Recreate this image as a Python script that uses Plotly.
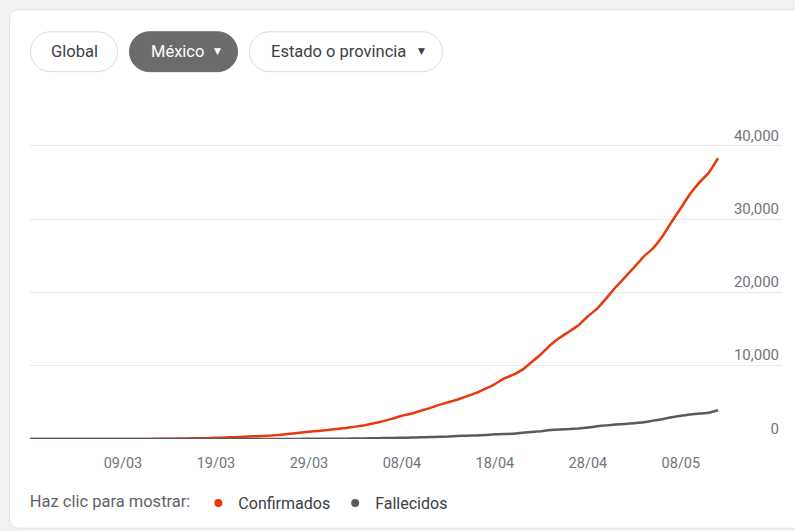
import plotly.graph_objects as go
import pandas as pd

# ---------------- data ----------------
start_date = "2020-02-28"
confirmados = [
    1, 4, 5, 5, 5, 5, 5, 6, 7, 7, 7, 7, 8, 12, 26, 41, 53, 82, 93, 118,
    164, 203, 251, 316, 367, 405, 475, 585, 717, 848, 993, 1094, 1215,
    1378, 1510, 1688, 1890, 2143, 2439, 2785, 3181, 3441, 3844, 4219, 4661,
    5014, 5399, 5847, 6297, 6875, 7497, 8261, 8772, 9501, 10544, 11633,
    12872, 13842, 14677, 15529, 16752, 17799, 19224,
    20739, 22088, 23471, 24905, 26025, 27634, 29616, 31522, 33460, 35022,
    36327, 38324,
]
fallecidos = [
    0, 0, 0, 0, 0, 0, 0, 0, 0, 0, 0, 0, 0, 0, 0, 0, 0, 0, 0,
    1, 1, 2, 2, 2, 4, 5, 6, 8, 12, 16, 20, 28, 29,
    37, 50, 60, 79, 94, 125, 141, 174, 194, 233, 273, 296, 332, 406, 449,
    486, 546, 650, 686, 712, 857, 970, 1069, 1221, 1305, 1351, 1434, 1569,
    1732, 1859,
    1972, 2061, 2154, 2271, 2507, 2704, 2961, 3160, 3353, 3465, 3573, 3926,
]
fechas = pd.date_range(start_date, periods=len(confirmados), freq="D")

x_tick_labels = ["09/03", "19/03", "29/03", "08/04", "18/04", "28/04", "08/05"]
x_tick_vals = [pd.Timestamp(f"2020-{l[3:]}-{l[:2]}") for l in x_tick_labels]
y_tick_vals = [0, 10000, 20000, 30000, 40000]
y_tick_labels = ["0", "10,000", "20,000", "30,000", "40,000"]

series_names = ["Confirmados", "Fallecidos"]
series_colors = ["#e8390e", "#5a5a5a"]
buttons = ["Global", "México", "Estado o provincia"]

# ---------------- layout geometry (pixels) ----------------
W, H = 795, 531
L, R, T, B = 30, 782, 120, 440
Y_GRID_TOP_PX = 146          # pixel row of the 40,000 gridline
Y_TOP_VALUE = 40000 * (B - T) / (B - Y_GRID_TOP_PX)


def px(x):
    return (x - L) / (R - L)


def py(y):
    return (B - y) / (B - T)


def rounded_path(x0, y0, x1, y1, r):
    k = 0.5523 * r
    pts = []
    pts.append(f"M{px(x0 + r)},{py(y0)}")
    pts.append(f"L{px(x1 - r)},{py(y0)}")
    pts.append(f"C{px(x1 - r + k)},{py(y0)} {px(x1)},{py(y0 + r - k)} {px(x1)},{py(y0 + r)}")
    pts.append(f"L{px(x1)},{py(y1 - r)}")
    pts.append(f"C{px(x1)},{py(y1 - r + k)} {px(x1 - r + k)},{py(y1)} {px(x1 - r)},{py(y1)}")
    pts.append(f"L{px(x0 + r)},{py(y1)}")
    pts.append(f"C{px(x0 + r - k)},{py(y1)} {px(x0)},{py(y1 - r + k)} {px(x0)},{py(y1 - r)}")
    pts.append(f"L{px(x0)},{py(y0 + r)}")
    pts.append(f"C{px(x0)},{py(y0 + r - k)} {px(x0 + r - k)},{py(y0)} {px(x0 + r)},{py(y0)}")
    pts.append("Z")
    return " ".join(pts)


fig = go.Figure()

for name, vals, col in zip(series_names, [confirmados, fallecidos], series_colors):
    fig.add_trace(go.Scatter(
        x=fechas, y=vals, mode="lines", name=name,
        line=dict(color=col, width=2.5, shape="spline", smoothing=0.4),
        showlegend=False, hoverinfo="x+y",
    ))

# legend entries (dots)
for name, col in zip(series_names, series_colors):
    fig.add_trace(go.Scatter(
        x=[None], y=[None], mode="markers", name=name,
        marker=dict(color=col, size=8, symbol="circle"),
        showlegend=True,
    ))

shapes = []
# card
shapes.append(dict(type="path", xref="paper", yref="paper",
                   path=rounded_path(9.5, 9.5, 830, 529.5, 9),
                   fillcolor="white", line=dict(color="#e3e3e3", width=1),
                   layer="below"))

# pills
pill_boxes = [(30, 31, 118, 72), (129, 31, 238, 72), (249, 31, 443, 72)]
pill_fill = ["white", "#6b6b6b", "white"]
pill_line = ["#dadce0", "#6b6b6b", "#dadce0"]
for (x0, y0, x1, y1), fc, lc in zip(pill_boxes, pill_fill, pill_line):
    shapes.append(dict(type="path", xref="paper", yref="paper",
                       path=rounded_path(x0 + 0.5, y0 + 0.5, x1 - 0.5, y1 - 0.5, (y1 - y0) / 2 - 0.5),
                       fillcolor=fc, line=dict(color=lc, width=1), layer="above"))

annotations = []
btn_text_x = [74, 177.5, 338.5]
btn_text_col = ["#3c4043", "white", "#3c4043"]
for t, x, c in zip(buttons, btn_text_x, btn_text_col):
    annotations.append(dict(text=t, x=px(x), y=py(51.5), xref="paper", yref="paper",
                            showarrow=False, xanchor="center", yanchor="middle",
                            font=dict(family="Roboto", size=16.5, color=c)))
for x, c in [(217, "white"), (421, "#3c4043")]:
    annotations.append(dict(text="▼", x=px(x), y=py(50.5), xref="paper", yref="paper",
                            showarrow=False, xanchor="center", yanchor="middle",
                            font=dict(family="DejaVu Sans", size=9, color=c)))

fig.update_layout(
    width=W, height=H,
    margin=dict(l=L, r=W - R, t=T, b=H - B, pad=0),
    paper_bgcolor="#f1f1f1",
    plot_bgcolor="rgba(0,0,0,0)",
    font=dict(family="Roboto", size=14, color="#70757a"),
    shapes=shapes,
    annotations=annotations,
    showlegend=True,
    legend=dict(
        orientation="h", x=-0.003, xanchor="left", y=py(503), yanchor="middle",
        title=dict(text="Haz clic para mostrar:", font=dict(size=16.5, color="#5f6368"), side="left"),
        font=dict(size=16, color="#3c4043"),
        bgcolor="rgba(0,0,0,0)", itemwidth=30, traceorder="normal",
    ),
    xaxis=dict(
        range=[pd.Timestamp("2020-02-28"), pd.Timestamp("2020-05-18 21:00")],
        tickvals=x_tick_vals, ticktext=x_tick_labels,
        showgrid=False, zeroline=False, showline=False, ticks="",
        ticklabelstandoff=13,
        tickfont=dict(size=14.5, color="#70757a"),
        fixedrange=True,
    ),
    yaxis=dict(
        range=[0, Y_TOP_VALUE], side="right",
        tickvals=y_tick_vals, ticktext=y_tick_labels,
        ticklabelposition="inside top",
        showgrid=True, gridcolor="#e8e8e8", gridwidth=1,
        zeroline=False, showline=False, ticks="",
        tickfont=dict(size=15, color="#70757a"),
        fixedrange=True,
    ),
)

fig.write_html("out.html", config={"displayModeBar": False},
               post_script="document.body.style.margin='0';document.body.style.background='#f1f1f1';")
